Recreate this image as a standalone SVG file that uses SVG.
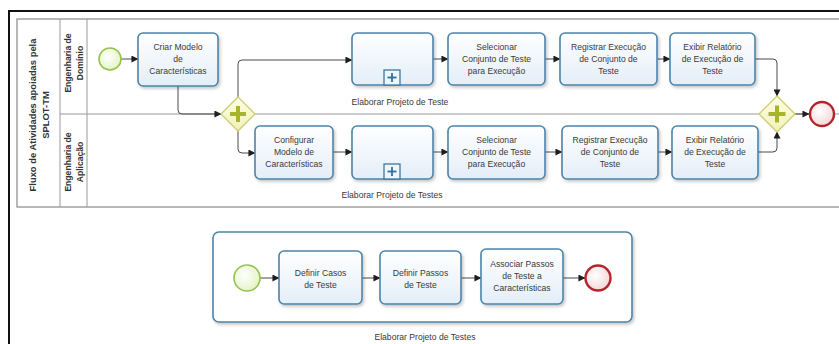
<svg xmlns="http://www.w3.org/2000/svg" width="839" height="344" viewBox="0 0 839 344">
<defs>
  <linearGradient id="taskFill" x1="0" y1="0" x2="0" y2="1">
    <stop offset="0" stop-color="#ffffff"/>
    <stop offset="1" stop-color="#e3eef8"/>
  </linearGradient>
  <radialGradient id="startFill" cx="0.4" cy="0.4" r="0.7">
    <stop offset="0" stop-color="#ffffff"/>
    <stop offset="1" stop-color="#e2f2bd"/>
  </radialGradient>
  <radialGradient id="endFill" cx="0.4" cy="0.4" r="0.7">
    <stop offset="0" stop-color="#ffffff"/>
    <stop offset="1" stop-color="#f3d2d4"/>
  </radialGradient>
  <linearGradient id="gwFill" x1="0" y1="0" x2="0" y2="1">
    <stop offset="0" stop-color="#fdfde6"/>
    <stop offset="1" stop-color="#f1f1b8"/>
  </linearGradient>
  <filter id="shadow" x="-10%" y="-10%" width="125%" height="135%">
    <feDropShadow dx="1.5" dy="2" stdDeviation="1.5" flood-color="#000" flood-opacity="0.22"/>
  </filter>
  <marker id="arrow" viewBox="0 0 8 8" refX="7.5" refY="4" markerWidth="7" markerHeight="7" markerUnits="userSpaceOnUse" orient="auto">
    <path d="M0,0 L8,4 L0,8 Z" fill="#1e1e1e"/>
  </marker>
  <style>
    .task { fill: url(#taskFill); stroke: #4d84ab; stroke-width: 1.6; filter: url(#shadow); }
    .sub { fill: #ffffff; stroke: #4d84ab; stroke-width: 1.6; filter: url(#shadow); }
    .plus { fill: #eef5fb; stroke: #2f6f9f; stroke-width: 1.2; }
    .plusmark { stroke: #2f6f9f; stroke-width: 1.8; }
    .start { fill: url(#startFill); stroke: #96c24f; stroke-width: 1.6; }
    .end { fill: url(#endFill); stroke: #b4242c; stroke-width: 2.4; }
    .gw { fill: url(#gwFill); stroke: #cdcd7a; stroke-width: 1.4; }
    .gwplus { stroke: #a6b62c; stroke-width: 4; stroke-linecap: butt; }
    .conn { fill: none; stroke: #4a4a4a; stroke-width: 1; marker-end: url(#arrow); }
    .pool { fill: none; stroke: #9a9a9a; stroke-width: 1.4; }
    .lane { fill: none; stroke: #9a9a9a; stroke-width: 1; }
    text { font-family: "Liberation Sans", Arial, sans-serif; font-size: 8.6px; fill: #3a3a3a; text-anchor: middle; }
    .lbl { font-weight: bold; font-size: 8.6px; fill: #333; }
    .plbl { font-weight: bold; font-size: 9.4px; fill: #333; }
  </style>
</defs>
<rect x="0" y="0" width="839" height="344" fill="#ffffff"/>
<rect x="9" y="11" width="840" height="345" fill="none" stroke="#111" stroke-width="2"/>

<g id="pool">
  <rect class="pool" x="17" y="19" width="830" height="188"/>
  <line class="lane" x1="60" y1="19" x2="60" y2="207"/>
  <line class="lane" x1="87" y1="19" x2="87" y2="207"/>
  <line class="lane" x1="60" y1="114" x2="847" y2="114"/>
  <text class="plbl" transform="translate(36,115) rotate(-90)">Fluxo de Atividades apoiadas pela</text>
  <text class="plbl" transform="translate(49,115) rotate(-90)">SPLOT-TM</text>
  <text class="lbl" transform="translate(71,63) rotate(-90)">Engenharia de</text>
  <text class="lbl" transform="translate(83,63) rotate(-90)">Domínio</text>
  <text class="lbl" transform="translate(71,162) rotate(-90)">Engenharia de</text>
  <text class="lbl" transform="translate(83,162) rotate(-90)">Aplicação</text>
</g>

<g id="expanded">
  <rect class="sub" x="213" y="232" width="419" height="90" rx="6"/>
  <text x="425" y="340">Elaborar Projeto de Testes</text>
</g>

<g id="connectors">
  <line class="conn" x1="121" y1="59" x2="138" y2="59"/>
  <path class="conn" d="M178,86 V110 Q178,114 182,114 H221"/>
  <path class="conn" d="M238,97 V64 Q238,60 242,60 H352"/>
  <path class="conn" d="M238,131 V149 Q238,153 242,153 H255"/>
  <line class="conn" x1="433" y1="59" x2="448" y2="59"/>
  <line class="conn" x1="545" y1="59" x2="560" y2="59"/>
  <line class="conn" x1="657" y1="59" x2="670" y2="59"/>
  <path class="conn" d="M755,59 H773 Q777,59 777,63 V96"/>
  <line class="conn" x1="333" y1="152" x2="352" y2="152"/>
  <line class="conn" x1="433" y1="152" x2="448" y2="152"/>
  <line class="conn" x1="545" y1="152" x2="562" y2="152"/>
  <line class="conn" x1="658" y1="152" x2="672" y2="152"/>
  <path class="conn" d="M758,152 H773 Q777,152 777,148 V132"/>
  <line class="conn" x1="795" y1="114" x2="809" y2="114"/>
  <line class="conn" x1="260" y1="278" x2="279" y2="278"/>
  <line class="conn" x1="362" y1="278" x2="380" y2="278"/>
  <line class="conn" x1="461" y1="278" x2="481" y2="278"/>
  <line class="conn" x1="563" y1="278" x2="585" y2="278"/>
</g>

<g id="start1"><circle class="start" cx="110" cy="59" r="11"/></g>

<g id="criar">
  <rect class="task" x="138" y="33" width="80" height="53" rx="5"/>
  <text x="178" y="50">Criar Modelo</text>
  <text x="178" y="62">de</text>
  <text x="178" y="74">Características</text>
</g>

<g id="gw1">
  <path class="gw" d="M238,97 L255,114 L238,131 L221,114 Z"/>
  <line class="gwplus" x1="238" y1="106" x2="238" y2="122"/>
  <line class="gwplus" x1="230" y1="114" x2="246" y2="114"/>
</g>

<g id="sub1">
  <rect class="task" x="352" y="33" width="81" height="52" rx="5"/>
  <rect class="plus" x="384" y="70" width="16" height="15"/>
  <line class="plusmark" x1="392" y1="73" x2="392" y2="82"/>
  <line class="plusmark" x1="387.5" y1="77.5" x2="396.5" y2="77.5"/>
  <text x="400" y="105">Elaborar Projeto de Teste</text>
</g>

<g id="sel1">
  <rect class="task" x="448" y="33" width="97" height="52" rx="5"/>
  <text x="496.5" y="50">Selecionar</text>
  <text x="496.5" y="62">Conjunto de Teste</text>
  <text x="496.5" y="74">para Execução</text>
</g>

<g id="reg1">
  <rect class="task" x="560" y="33" width="97" height="52" rx="5"/>
  <text x="608.5" y="50">Registrar Execução</text>
  <text x="608.5" y="62">de Conjunto de</text>
  <text x="608.5" y="74">Teste</text>
</g>

<g id="exi1">
  <rect class="task" x="670" y="33" width="85" height="52" rx="5"/>
  <text x="712.5" y="50">Exibir Relatório</text>
  <text x="712.5" y="62">de Execução de</text>
  <text x="712.5" y="74">Teste</text>
</g>

<g id="config">
  <rect class="task" x="255" y="126" width="78" height="53" rx="5"/>
  <text x="294" y="143">Configurar</text>
  <text x="294" y="155">Modelo de</text>
  <text x="294" y="167">Características</text>
</g>

<g id="sub2">
  <rect class="task" x="352" y="126" width="81" height="53" rx="5"/>
  <rect class="plus" x="384" y="164" width="16" height="15"/>
  <line class="plusmark" x1="392" y1="167" x2="392" y2="176"/>
  <line class="plusmark" x1="387.5" y1="171.5" x2="396.5" y2="171.5"/>
  <text x="392" y="198">Elaborar Projeto de Testes</text>
</g>

<g id="sel2">
  <rect class="task" x="448" y="126" width="97" height="53" rx="5"/>
  <text x="496.5" y="143">Selecionar</text>
  <text x="496.5" y="155">Conjunto de Teste</text>
  <text x="496.5" y="167">para Execução</text>
</g>

<g id="reg2">
  <rect class="task" x="562" y="126" width="96" height="53" rx="5"/>
  <text x="610" y="143">Registrar Execução</text>
  <text x="610" y="155">de Conjunto de</text>
  <text x="610" y="167">Teste</text>
</g>

<g id="exi2">
  <rect class="task" x="672" y="126" width="86" height="53" rx="5"/>
  <text x="715" y="143">Exibir Relatório</text>
  <text x="715" y="155">de Execução de</text>
  <text x="715" y="167">Teste</text>
</g>

<g id="gw2">
  <path class="gw" d="M777,96 L795,114 L777,132 L759,114 Z"/>
  <line class="gwplus" x1="777" y1="105.5" x2="777" y2="122.5"/>
  <line class="gwplus" x1="768.5" y1="114" x2="785.5" y2="114"/>
</g>

<g id="end1"><circle class="end" cx="822" cy="114" r="12"/></g>

<g id="start2"><circle class="start" cx="247" cy="278" r="13"/></g>

<g id="casos">
  <rect class="task" x="279" y="251" width="83" height="53" rx="5"/>
  <text x="320.5" y="276">Definir Casos</text>
  <text x="320.5" y="288">de Teste</text>
</g>

<g id="passos">
  <rect class="task" x="380" y="251" width="81" height="53" rx="5"/>
  <text x="420.5" y="276">Definir Passos</text>
  <text x="420.5" y="288">de Teste</text>
</g>

<g id="associar">
  <rect class="task" x="481" y="249" width="82" height="55" rx="5"/>
  <text x="522" y="267">Associar  Passos</text>
  <text x="522" y="279">de Teste a</text>
  <text x="522" y="291">Características</text>
</g>

<g id="end2"><circle class="end" cx="598" cy="278" r="12.5"/></g>
</svg>
